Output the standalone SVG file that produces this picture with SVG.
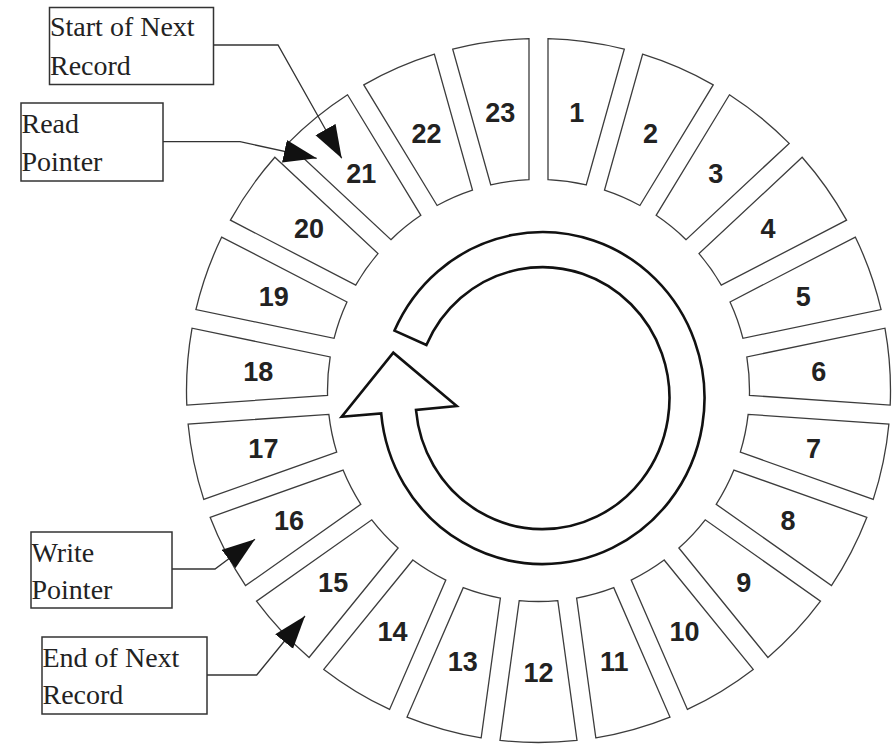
<svg xmlns="http://www.w3.org/2000/svg" xmlns:xlink="http://www.w3.org/1999/xlink" width="892" height="746" viewBox="0 0 892 746">
<style>
.seg{fill:#fff;stroke:#3c3c3c;stroke-width:1.3}
.num{font-family:"Liberation Sans",Arial,sans-serif;font-weight:bold;font-size:27px;fill:#222;text-anchor:middle}
.box{fill:#fff;stroke:#333;stroke-width:1.5}
.lbl{font-family:"Liberation Serif","Times New Roman",serif;font-size:28px;fill:#222}
.conn{fill:none;stroke:#333;stroke-width:1.3}
.cyc{fill:#fff;stroke:#111;stroke-width:2.6;stroke-linejoin:miter}
</style>
<defs>
<path id="sector" d="M -38.502,-349.890 A 352 352 0 0 1 38.502,-349.890 L 19.291,-210.117 A 211 211 0 0 0 -19.291,-210.117 Z"/>
<marker id="ah" markerUnits="userSpaceOnUse" markerWidth="36" markerHeight="26" refX="33" refY="11.5" orient="auto">
<path d="M0,0 L33,11.5 L0,23 Z" fill="#111"/>
</marker>
</defs>
<rect width="892" height="746" fill="#fff"/>
<g id="ring">
<g id="seg-1"><use xlink:href="#sector" class="seg" transform="translate(538.5,390.5) rotate(7.826)"/><text class="num" y="10" transform="translate(538.5,390.5) rotate(7.826) translate(0,-281) rotate(-7.826)">1</text></g>
<g id="seg-2"><use xlink:href="#sector" class="seg" transform="translate(538.5,390.5) rotate(23.478)"/><text class="num" y="10" transform="translate(538.5,390.5) rotate(23.478) translate(0,-281) rotate(-23.478)">2</text></g>
<g id="seg-3"><use xlink:href="#sector" class="seg" transform="translate(538.5,390.5) rotate(39.130)"/><text class="num" y="10" transform="translate(538.5,390.5) rotate(39.130) translate(0,-281) rotate(-39.130)">3</text></g>
<g id="seg-4"><use xlink:href="#sector" class="seg" transform="translate(538.5,390.5) rotate(54.783)"/><text class="num" y="10" transform="translate(538.5,390.5) rotate(54.783) translate(0,-281) rotate(-54.783)">4</text></g>
<g id="seg-5"><use xlink:href="#sector" class="seg" transform="translate(538.5,390.5) rotate(70.435)"/><text class="num" y="10" transform="translate(538.5,390.5) rotate(70.435) translate(0,-281) rotate(-70.435)">5</text></g>
<g id="seg-6"><use xlink:href="#sector" class="seg" transform="translate(538.5,390.5) rotate(86.087)"/><text class="num" y="10" transform="translate(538.5,390.5) rotate(86.087) translate(0,-281) rotate(-86.087)">6</text></g>
<g id="seg-7"><use xlink:href="#sector" class="seg" transform="translate(538.5,390.5) rotate(101.739)"/><text class="num" y="10" transform="translate(538.5,390.5) rotate(101.739) translate(0,-281) rotate(-101.739)">7</text></g>
<g id="seg-8"><use xlink:href="#sector" class="seg" transform="translate(538.5,390.5) rotate(117.391)"/><text class="num" y="10" transform="translate(538.5,390.5) rotate(117.391) translate(0,-281) rotate(-117.391)">8</text></g>
<g id="seg-9"><use xlink:href="#sector" class="seg" transform="translate(538.5,390.5) rotate(133.043)"/><text class="num" y="10" transform="translate(538.5,390.5) rotate(133.043) translate(0,-281) rotate(-133.043)">9</text></g>
<g id="seg-10"><use xlink:href="#sector" class="seg" transform="translate(538.5,390.5) rotate(148.696)"/><text class="num" y="10" transform="translate(538.5,390.5) rotate(148.696) translate(0,-281) rotate(-148.696)">10</text></g>
<g id="seg-11"><use xlink:href="#sector" class="seg" transform="translate(538.5,390.5) rotate(164.348)"/><text class="num" y="10" transform="translate(538.5,390.5) rotate(164.348) translate(0,-281) rotate(-164.348)">11</text></g>
<g id="seg-12"><use xlink:href="#sector" class="seg" transform="translate(538.5,390.5) rotate(180)"/><text class="num" y="10" transform="translate(538.5,390.5) rotate(180) translate(0,-281) rotate(-180)">12</text></g>
<g id="seg-13"><use xlink:href="#sector" class="seg" transform="translate(538.5,390.5) rotate(195.652)"/><text class="num" y="10" transform="translate(538.5,390.5) rotate(195.652) translate(0,-281) rotate(-195.652)">13</text></g>
<g id="seg-14"><use xlink:href="#sector" class="seg" transform="translate(538.5,390.5) rotate(211.304)"/><text class="num" y="10" transform="translate(538.5,390.5) rotate(211.304) translate(0,-281) rotate(-211.304)">14</text></g>
<g id="seg-15"><use xlink:href="#sector" class="seg" transform="translate(538.5,390.5) rotate(226.957)"/><text class="num" y="10" transform="translate(538.5,390.5) rotate(226.957) translate(0,-281) rotate(-226.957)">15</text></g>
<g id="seg-16"><use xlink:href="#sector" class="seg" transform="translate(538.5,390.5) rotate(242.609)"/><text class="num" y="10" transform="translate(538.5,390.5) rotate(242.609) translate(0,-281) rotate(-242.609)">16</text></g>
<g id="seg-17"><use xlink:href="#sector" class="seg" transform="translate(538.5,390.5) rotate(258.261)"/><text class="num" y="10" transform="translate(538.5,390.5) rotate(258.261) translate(0,-281) rotate(-258.261)">17</text></g>
<g id="seg-18"><use xlink:href="#sector" class="seg" transform="translate(538.5,390.5) rotate(273.913)"/><text class="num" y="10" transform="translate(538.5,390.5) rotate(273.913) translate(0,-281) rotate(-273.913)">18</text></g>
<g id="seg-19"><use xlink:href="#sector" class="seg" transform="translate(538.5,390.5) rotate(289.565)"/><text class="num" y="10" transform="translate(538.5,390.5) rotate(289.565) translate(0,-281) rotate(-289.565)">19</text></g>
<g id="seg-20"><use xlink:href="#sector" class="seg" transform="translate(538.5,390.5) rotate(305.217)"/><text class="num" y="10" transform="translate(538.5,390.5) rotate(305.217) translate(0,-281) rotate(-305.217)">20</text></g>
<g id="seg-21"><use xlink:href="#sector" class="seg" transform="translate(538.5,390.5) rotate(320.870)"/><text class="num" y="10" transform="translate(538.5,390.5) rotate(320.870) translate(0,-281) rotate(-320.870)">21</text></g>
<g id="seg-22"><use xlink:href="#sector" class="seg" transform="translate(538.5,390.5) rotate(336.522)"/><text class="num" y="10" transform="translate(538.5,390.5) rotate(336.522) translate(0,-281) rotate(-336.522)">22</text></g>
<g id="seg-23"><use xlink:href="#sector" class="seg" transform="translate(538.5,390.5) rotate(352.174)"/><text class="num" y="10" transform="translate(538.5,390.5) rotate(352.174) translate(0,-281) rotate(-352.174)">23</text></g>
</g>
<g id="cycle-arrow">
<path class="cyc" d="M 394.5,330.6 A 162 166 0 1 1 381.2,413.5 L 341.7,416.7 L 393.3,352.7 L 456.7,406 L 416,410 A 127 131 0 1 0 426.4,345 Z"/>
</g>
<g id="start-of-next-record">
<rect class="box" x="49.5" y="7.5" width="164" height="77"/>
<text class="lbl" x="50" y="36">Start of Next</text>
<text class="lbl" x="50" y="75">Record</text>
</g>
<g id="read-pointer">
<rect class="box" x="21" y="103" width="142" height="78"/>
<text class="lbl" x="21.5" y="133">Read</text>
<text class="lbl" x="21.5" y="170.5">Pointer</text>
</g>
<g id="write-pointer">
<rect class="box" x="31" y="532" width="141" height="76"/>
<text class="lbl" x="31.5" y="561.5">Write</text>
<text class="lbl" x="31.5" y="598.5">Pointer</text>
</g>
<g id="end-of-next-record">
<rect class="box" x="42" y="637" width="165" height="77"/>
<text class="lbl" x="42.5" y="666.5">End of Next</text>
<text class="lbl" x="42.5" y="704">Record</text>
</g>
<g id="connectors">
<path class="conn" d="M213.5,45 H278 L341.7,158.3" marker-end="url(#ah)"/>
<path class="conn" d="M163,141.7 H240 L316.7,158.3" marker-end="url(#ah)"/>
<path class="conn" d="M172,569 H215 L255,539.3" marker-end="url(#ah)"/>
<path class="conn" d="M207,675 H256.7 L305,616" marker-end="url(#ah)"/>
</g>
</svg>
